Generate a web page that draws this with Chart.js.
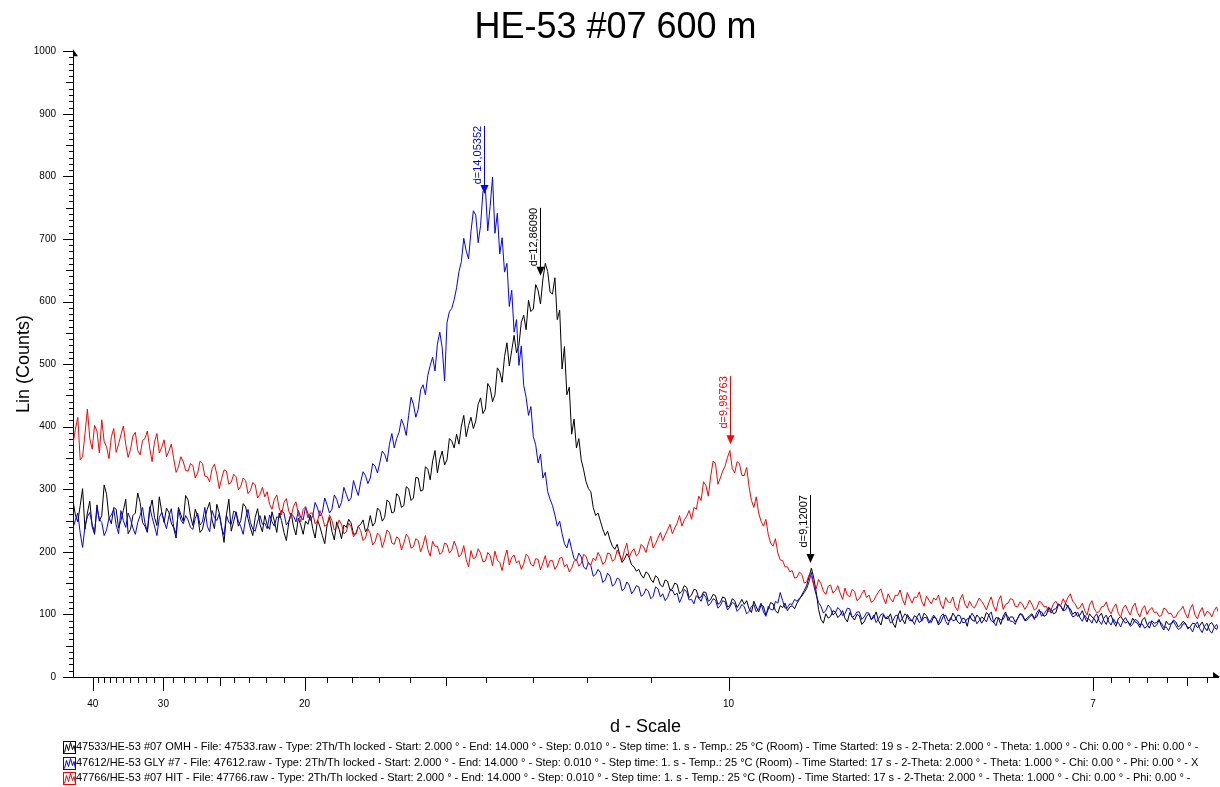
<!DOCTYPE html>
<html>
<head>
<meta charset="utf-8">
<title>HE-53 #07 600 m</title>
<script src="https://cdn.jsdelivr.net/npm/chart.js@4.4.1/dist/chart.umd.min.js"></script>
<style>
	html, body { margin: 0; padding: 0; background: #fff; }
	#wrap { width: 1220px; height: 787px; }
</style>
</head>
<body>
<div id="wrap"><canvas id="myChart" width="1220" height="787"></canvas></div>
<script>
// scan: 2-theta start / step (deg), one value every 0.025 deg
var START = 2.0;
var STEP = 0.025;
var LAMBDA = 1.5406;

var omh = [
	282, 259, 248, 274, 301, 236, 262, 281, 240, 228, 275, 249, 258, 307, 292, 255, 245, 271, 268, 238,
	250, 266, 284, 229, 236, 258, 262, 294, 279, 247, 241, 231, 266, 283, 255, 242, 288, 264, 247, 270,
	263, 246, 238, 222, 271, 259, 249, 290, 283, 257, 242, 268, 257, 231, 236, 254, 268, 279, 251, 237,
	276, 262, 240, 215, 259, 284, 233, 248, 264, 241, 250, 277, 272, 253, 238, 226, 255, 269, 244, 232,
	258, 243, 236, 264, 249, 231, 262, 250, 231, 218, 247, 262, 240, 227, 254, 243, 228, 249, 244, 259,
	237, 222, 251, 240, 226, 213, 243, 255, 233, 219, 248, 236, 221, 243, 239, 252, 246, 228, 229, 241,
	244, 251, 232, 239, 258, 241, 247, 270, 266, 249, 255, 283, 279, 262, 264, 293, 288, 271, 274, 304,
	301, 282, 286, 319, 318, 297, 299, 336, 332, 315, 345, 362, 326, 348, 361, 339, 347, 381, 377, 366,
	388, 372, 401, 418, 384, 402, 415, 397, 409, 436, 446, 421, 428, 469, 462, 440, 451, 494, 488, 471,
	512, 534, 497, 522, 546, 518, 530, 567, 578, 555, 602, 584, 588, 627, 618, 596, 636, 661, 648, 615,
	612, 638, 571, 586, 492, 528, 451, 463, 388, 412, 366, 381, 347, 331, 312, 301, 296, 271, 258, 262,
	249, 236, 226, 233, 219, 209, 204, 212, 196, 183, 188, 197, 191, 179, 176, 169, 172, 163, 158, 168,
	165, 156, 151, 162, 158, 147, 144, 155, 153, 139, 141, 150, 148, 133, 137, 146, 143, 127, 131, 140,
	139, 126, 128, 136, 135, 121, 124, 132, 130, 116, 119, 128, 126, 112, 114, 125, 122, 111, 117, 124,
	116, 122, 109, 103, 121, 112, 104, 115, 113, 99, 108, 119, 117, 106, 102, 114, 111, 118, 106, 112,
	114, 109, 118, 124, 131, 138, 146, 160, 174, 158, 136, 108, 92, 86, 101, 94, 97, 106, 104, 95,
	99, 106, 94, 88, 103, 96, 91, 100, 98, 84, 88, 97, 101, 92, 95, 104, 90, 83, 99, 93,
	94, 101, 86, 79, 97, 106, 92, 85, 100, 94, 89, 98, 95, 87, 91, 102, 98, 90, 87, 96,
	94, 83, 88, 97, 99, 90, 91, 102, 96, 88, 85, 94, 93, 81, 98, 91, 89, 99, 95, 86,
	92, 103, 99, 90, 87, 95, 94, 84, 97, 104, 90, 96, 96, 88, 93, 101, 100, 91, 94, 98,
	101, 94, 96, 105, 104, 97, 99, 110, 108, 101, 103, 116, 113, 106, 118, 111, 109, 100, 104, 97,
	99, 106, 95, 88, 101, 96, 93, 86, 97, 102, 90, 84, 95, 99, 88, 81, 93, 97, 91, 86,
	89, 83, 94, 88, 86, 79, 91, 95, 84, 78, 90, 86, 87, 92, 81, 75, 89, 84, 85, 91,
	88, 80, 83, 89, 86, 77, 80, 86, 85, 79, 82, 88, 79, 74, 84, 87, 80, 76, 83, 79
];
var gly = [
	238, 251, 262, 230, 207, 241, 256, 263, 244, 231, 270, 252, 247, 226, 235, 254, 259, 268, 243, 229,
	266, 250, 239, 262, 252, 238, 228, 247, 258, 271, 246, 233, 272, 255, 241, 226, 255, 263, 249, 237,
	257, 269, 240, 229, 268, 251, 245, 258, 251, 239, 236, 254, 262, 243, 248, 271, 241, 232, 266, 255,
	250, 261, 238, 227, 259, 247, 244, 265, 263, 249, 240, 228, 254, 268, 247, 236, 233, 249, 258, 244,
	246, 237, 259, 248, 241, 256, 254, 266, 262, 243, 249, 261, 257, 248, 266, 255, 251, 272, 261, 250,
	258, 279, 270, 257, 263, 286, 275, 262, 268, 291, 284, 270, 279, 303, 292, 281, 286, 314, 301, 290,
	312, 328, 322, 309, 318, 341, 337, 326, 343, 361, 356, 344, 372, 389, 366, 381, 391, 412, 402, 386,
	418, 447, 436, 415, 428, 459, 467, 451, 482, 498, 511, 489, 532, 551, 526, 473, 566, 584, 589, 603,
	622, 648, 664, 701, 681, 668, 712, 745, 738, 694, 721, 776, 782, 713, 752, 799, 709, 741, 676, 702,
	647, 661, 592, 618, 551, 571, 498, 529, 466, 447, 418, 432, 384, 371, 342, 356, 318, 327, 296, 284,
	274, 259, 241, 249, 229, 213, 206, 221, 204, 189, 186, 198, 192, 176, 172, 183, 178, 161, 164, 172,
	167, 151, 155, 166, 161, 145, 149, 158, 156, 138, 141, 152, 147, 133, 138, 146, 144, 129, 132, 141,
	137, 125, 129, 144, 141, 128, 133, 122, 127, 138, 139, 131, 134, 119, 128, 140, 136, 123, 124, 117,
	130, 126, 121, 133, 127, 114, 118, 125, 123, 110, 114, 122, 120, 107, 112, 119, 117, 105, 109, 116,
	112, 101, 105, 113, 116, 104, 109, 118, 104, 97, 113, 108, 107, 121, 118, 135, 122, 110, 111, 117,
	116, 124, 121, 126, 129, 135, 141, 152, 167, 146, 131, 119, 113, 102, 106, 115, 110, 99, 103, 111,
	107, 98, 101, 110, 109, 95, 98, 104, 104, 92, 96, 103, 102, 91, 99, 87, 93, 100, 101, 94,
	97, 86, 90, 98, 99, 88, 94, 101, 97, 90, 91, 84, 96, 102, 89, 95, 95, 86, 92, 99,
	93, 86, 97, 101, 89, 83, 95, 90, 91, 99, 98, 87, 87, 93, 94, 102, 96, 85, 90, 96,
	93, 88, 99, 104, 88, 82, 95, 91, 92, 100, 97, 89, 89, 84, 94, 101, 98, 90, 91, 96,
	99, 92, 103, 108, 97, 101, 106, 112, 102, 108, 109, 117, 114, 106, 107, 115, 103, 96, 98, 104,
	95, 89, 99, 93, 92, 86, 96, 101, 90, 84, 94, 99, 88, 83, 93, 86, 87, 80, 90, 95,
	88, 81, 84, 92, 90, 83, 85, 78, 81, 88, 87, 80, 83, 90, 86, 79, 80, 74, 84, 89,
	82, 76, 78, 85, 85, 79, 79, 72, 83, 88, 77, 71, 81, 86, 75, 70, 79, 84, 76, 71
];
var hit = [
	372, 396, 415, 347, 352, 389, 428, 381, 364, 402, 393, 358, 411, 376, 368, 349, 384, 397, 359, 372,
	387, 401, 372, 351, 364, 385, 391, 362, 355, 378, 381, 393, 366, 344, 376, 389, 358, 367, 379, 352,
	361, 372, 349, 327, 336, 352, 344, 330, 329, 341, 338, 318, 326, 345, 341, 321, 320, 312, 333, 340,
	324, 301, 317, 331, 329, 308, 311, 324, 320, 299, 305, 318, 314, 293, 298, 311, 307, 286, 292, 303,
	288, 296, 276, 268, 284, 291, 270, 259, 279, 285, 265, 256, 273, 280, 260, 248, 268, 272, 254, 262,
	262, 245, 249, 266, 256, 241, 243, 259, 250, 235, 238, 251, 244, 229, 232, 246, 240, 224, 228, 241,
	234, 218, 222, 237, 229, 211, 216, 230, 226, 207, 219, 235, 231, 214, 212, 224, 221, 203, 214, 228,
	223, 206, 208, 221, 218, 200, 211, 226, 204, 193, 217, 209, 209, 196, 199, 214, 212, 198, 203, 217,
	207, 192, 196, 210, 188, 176, 202, 189, 191, 205, 198, 184, 185, 199, 194, 178, 201, 187, 183, 170,
	190, 203, 179, 191, 195, 182, 186, 172, 181, 196, 192, 180, 177, 189, 188, 171, 182, 194, 175, 186,
	186, 172, 178, 190, 191, 176, 180, 168, 174, 185, 188, 177, 182, 196, 193, 181, 179, 190, 186, 199,
	192, 180, 184, 198, 197, 185, 188, 203, 195, 186, 202, 214, 191, 200, 205, 193, 198, 212, 208, 199,
	214, 225, 206, 213, 222, 231, 218, 227, 235, 244, 229, 238, 246, 258, 241, 251, 257, 266, 252, 271,
	268, 289, 282, 312, 306, 289, 321, 345, 341, 308, 318, 329, 337, 351, 362, 333, 326, 344, 341, 322,
	322, 335, 304, 282, 271, 288, 262, 249, 241, 252, 228, 214, 209, 221, 198, 187, 186, 176, 176, 168,
	170, 158, 159, 168, 164, 150, 152, 163, 161, 147, 141, 156, 149, 137, 132, 145, 147, 134, 138, 146,
	134, 124, 142, 131, 128, 140, 137, 122, 125, 133, 139, 127, 131, 119, 122, 130, 136, 141, 127, 117,
	133, 125, 120, 131, 130, 139, 124, 115, 135, 126, 118, 128, 127, 136, 121, 113, 129, 123, 117, 126,
	123, 131, 116, 109, 127, 120, 119, 128, 112, 106, 124, 132, 117, 110, 121, 114, 110, 118, 126, 121,
	115, 107, 119, 128, 113, 105, 122, 130, 108, 116, 118, 125, 124, 113, 112, 120, 117, 108, 114, 123,
	116, 107, 110, 121, 119, 112, 113, 104, 108, 117, 121, 114, 114, 125, 118, 127, 133, 121, 117, 109,
	111, 118, 106, 99, 115, 122, 109, 103, 104, 112, 113, 120, 107, 101, 111, 117, 102, 96, 110, 115,
	106, 99, 112, 118, 103, 96, 109, 114, 100, 107, 111, 103, 104, 97, 98, 110, 108, 101, 102, 95,
	96, 104, 107, 113, 101, 94, 109, 116, 99, 93, 104, 111, 97, 105, 103, 96, 106, 112, 100, 104
];

var seriesLabels = [
	'47533/HE-53 #07 OMH - File: 47533.raw - Type: 2Th/Th locked - Start: 2.000 ° - End: 14.000 ° - Step: 0.010 ° - Step time: 1. s - Temp.: 25 °C (Room) - Time Started: 19 s - 2-Theta: 2.000 ° - Theta: 1.000 ° - Chi: 0.00 ° - Phi: 0.00 ° -',
	'47612/HE-53 GLY #7 - File: 47612.raw - Type: 2Th/Th locked - Start: 2.000 ° - End: 14.000 ° - Step: 0.010 ° - Step time: 1. s - Temp.: 25 °C (Room) - Time Started: 17 s - 2-Theta: 2.000 ° - Theta: 1.000 ° - Chi: 0.00 ° - Phi: 0.00 ° - X',
	'47766/HE-53 #07 HIT - File: 47766.raw - Type: 2Th/Th locked - Start: 2.000 ° - End: 14.000 ° - Step: 0.010 ° - Step time: 1. s - Temp.: 25 °C (Room) - Time Started: 17 s - 2-Theta: 2.000 ° - Theta: 1.000 ° - Chi: 0.00 ° - Phi: 0.00 ° -'
];
var seriesColors = ['#000000', '#0000ff', '#ff0000'];

// d-scale ticks
var dLabels = [40, 30, 20, 10, 7];
var dMedium = [25, 15, 6.5];
var dMinor = [39, 38, 37, 36, 35, 34, 33, 32, 31, 29, 28, 27, 26, 24, 23, 22, 21,
	19, 18, 17, 16, 14, 13, 12, 11, 6.9, 6.8, 6.7, 6.6, 6.4];

// peak markers
var peakD = [14.05352, 12.86090, 9.98763, 9.12007];
var peakCounts = [772, 641, 372, 182];
var peakSeries = [1, 0, 2, 0];

var FONT = '"Liberation Sans", Arial, Helvetica, sans-serif';

function dToTwoTheta(d) {
	return 2 * Math.asin(LAMBDA / (2 * d)) * 180 / Math.PI;
}
function twoThetaToD(t) {
	return LAMBDA / (2 * Math.sin(t / 2 * Math.PI / 180));
}
function toPoints(values) {
	return values.map(function(v, i) {
		return { x: +(START + i * STEP).toFixed(3), y: v };
	});
}

// ticks, axis arrows, peak labels and the legend lines
var decor = {
	id: 'decor',
	afterDraw: function(chart) {
		var ctx = chart.ctx;
		var xs = chart.scales.x, ys = chart.scales.y, area = chart.chartArea;
		ctx.save();
		ctx.lineWidth = 1;
		ctx.strokeStyle = '#000';
		ctx.fillStyle = '#000';

		function xTick(d, len) {
			var px = Math.round(xs.getPixelForValue(dToTwoTheta(d))) + 0.5;
			ctx.beginPath();
			ctx.moveTo(px, area.bottom);
			ctx.lineTo(px, area.bottom + len);
			ctx.stroke();
		}
		dLabels.forEach(function(d) { xTick(d, 14); });
		dMedium.forEach(function(d) { xTick(d, 9); });
		dMinor.forEach(function(d) { xTick(d, 6); });

		for (var v = 0; v <= 1000; v += 10) {
			var len = v % 100 === 0 ? 10 : (v % 50 === 0 ? 7 : 4);
			var py = Math.round(ys.getPixelForValue(v)) + 0.5;
			ctx.beginPath();
			ctx.moveTo(area.left - len, py);
			ctx.lineTo(area.left, py);
			ctx.stroke();
		}

		// axis end arrows
		ctx.beginPath();
		ctx.moveTo(area.left, area.top - 2);
		ctx.lineTo(area.left + 5, area.top + 5);
		ctx.lineTo(area.left, area.top + 5);
		ctx.closePath();
		ctx.fill();
		ctx.beginPath();
		ctx.moveTo(area.right + 2, area.bottom);
		ctx.lineTo(area.right - 5, area.bottom - 5);
		ctx.lineTo(area.right - 5, area.bottom);
		ctx.closePath();
		ctx.fill();

		// peak markers
		ctx.font = '11px ' + FONT;
		peakD.forEach(function(d, i) {
			var col = seriesColors[peakSeries[i]];
			var x = Math.round(xs.getPixelForValue(dToTwoTheta(d))) + 0.5;
			var tip = ys.getPixelForValue(peakCounts[i]);
			var top = tip - 68;
			ctx.strokeStyle = col;
			ctx.fillStyle = col;
			ctx.beginPath();
			ctx.moveTo(x, top);
			ctx.lineTo(x, tip - 8);
			ctx.stroke();
			ctx.beginPath();
			ctx.moveTo(x, tip);
			ctx.lineTo(x - 4, tip - 9);
			ctx.lineTo(x + 4, tip - 9);
			ctx.closePath();
			ctx.fill();
			ctx.save();
			ctx.translate(x - 1, top);
			ctx.rotate(-Math.PI / 2);
			ctx.textAlign = 'right';
			ctx.textBaseline = 'bottom';
			ctx.fillText('d=' + d.toFixed(5).replace('.', ','), 0, 0);
			ctx.restore();
		});

		// legend
		ctx.font = '11px ' + FONT;
		ctx.textAlign = 'left';
		ctx.textBaseline = 'middle';
		chart.data.datasets.forEach(function(ds, i) {
			var cy = 747 + i * 15.5;
			var bx = 63.5, by = Math.round(cy - 6) + 0.5;
			ctx.strokeStyle = ds.borderColor;
			ctx.strokeRect(bx, by, 12, 12);
			ctx.beginPath();
			ctx.moveTo(bx + 1, by + 11);
			ctx.lineTo(bx + 3, by + 3);
			ctx.lineTo(bx + 5, by + 9);
			ctx.lineTo(bx + 7, by + 1);
			ctx.lineTo(bx + 9, by + 8);
			ctx.lineTo(bx + 10.5, by + 4);
			ctx.lineTo(bx + 12, by + 11);
			ctx.stroke();
			ctx.fillStyle = '#000';
			ctx.fillText(ds.label, 76, cy);
		});
		ctx.restore();
	}
};

var ctx = document.getElementById('myChart').getContext('2d');
var myChart = new Chart(ctx, {
	type: 'line',
	data: {
		datasets: [
			{ label: seriesLabels[0], data: toPoints(omh), borderColor: seriesColors[0], order: 3 },
			{ label: seriesLabels[1], data: toPoints(gly), borderColor: seriesColors[1], order: 2 },
			{ label: seriesLabels[2], data: toPoints(hit), borderColor: seriesColors[2], order: 1 }
		]
	},
	options: {
		responsive: false,
		animation: false,
		parsing: false,
		elements: {
			line: { borderWidth: 1, tension: 0 },
			point: { radius: 0 }
		},
		layout: { padding: { left: 13, right: 2, top: 0, bottom: 49 } },
		plugins: {
			legend: { display: false },
			tooltip: { enabled: false },
			title: {
				display: true,
				text: 'HE-53 #07 600 m',
				color: '#000',
				font: { family: FONT, size: 36, weight: 'normal', lineHeight: 1.2 },
				padding: { top: 6, bottom: 2 }
			}
		},
		scales: {
			x: {
				type: 'linear',
				min: 2.0,
				max: 13.94,
				grid: { display: false, drawTicks: false },
				border: { display: true, color: '#000', width: 1 },
				afterBuildTicks: function(scale) {
					scale.ticks = dLabels.map(function(d) { return { value: dToTwoTheta(d) }; });
				},
				ticks: {
					autoSkip: false,
					maxRotation: 0,
					padding: 21,
					color: '#000',
					font: { family: FONT, size: 10 },
					callback: function(value) { return String(Math.round(twoThetaToD(value))); }
				},
				title: {
					display: true,
					text: 'd - Scale',
					color: '#000',
					font: { family: FONT, size: 18 },
					padding: { top: 0, bottom: 0 }
				},
				afterFit: function(scale) { scale.height = 61; }
			},
			y: {
				min: 0,
				max: 1000,
				grid: { display: false, drawTicks: false },
				border: { display: true, color: '#000', width: 1 },
				ticks: {
					stepSize: 100,
					padding: 17,
					color: '#000',
					font: { family: FONT, size: 10 },
					callback: function(value) { return String(value); }
				},
				title: {
					display: true,
					text: 'Lin (Counts)',
					color: '#000',
					font: { family: FONT, size: 18 },
					padding: { top: 0, bottom: 0 }
				},
				afterFit: function(scale) { scale.width = 60; }
			}
		}
	},
	plugins: [decor]
});
</script>
</body>
</html>
